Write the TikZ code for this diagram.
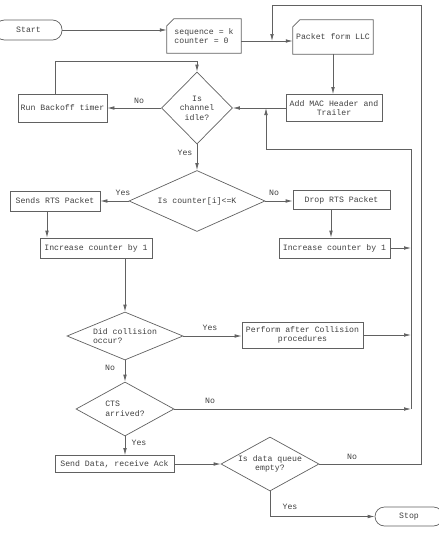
\documentclass[tikz,border=0pt]{standalone}
\usepackage{fontspec}
\setmonofont{Liberation Mono}
\usetikzlibrary{shapes.geometric,arrows.meta}
\definecolor{ln}{gray}{0.38}
\definecolor{tx}{gray}{0.25}
\begin{document}
\begin{tikzpicture}[x=1pt,y=-1pt,
  font=\ttfamily\fontsize{8.2}{9.6}\selectfont,
  every node/.style={text=tx},
  box/.style={draw=ln,line width=0.7pt,rectangle,inner sep=0pt,align=center},
  card/.style={rectangle,inner sep=0pt,align=left},
  term/.style={draw=ln,line width=0.7pt,rectangle,rounded corners=9.5pt,inner sep=0pt},
  dia/.style={draw=ln,line width=0.7pt,diamond,inner sep=0pt,align=center},
  lab/.style={inner sep=0pt},
  arr/.style={draw=ln,line width=0.7pt,-{Latex[length=7pt,width=3.6pt]}},
  ln/.style={draw=ln,line width=0.7pt}]
\useasboundingbox (0,0) rectangle (439,533);
% nodes
\node[term,minimum width=67pt,minimum height=20pt] (start) at (28.5,30) {Start};
\node[card,minimum width=74pt,minimum height=34pt] (seq) at (204,36) {sequence = k\\counter = 0};
\node[card,minimum width=80pt,minimum height=34pt,align=center] (pkt) at (333,37) {Packet form LLC};
\node[box,minimum width=96pt,minimum height=27pt] (mac) at (334,108) {Add MAC Header and\\Trailer};
\node[dia,minimum width=71pt,minimum height=72pt] (chan) at (197,108) {Is\\channel\\idle?};
\node[box,minimum width=89pt,minimum height=28pt] (backoff) at (62.5,108) {Run Backoff timer};
\node[dia,minimum width=136pt,minimum height=61pt,shape aspect=2.2] (cnt) at (197,201) {Is counter[i]<=K};
\node[box,minimum width=90pt,minimum height=20pt] (rts) at (55,201) {Sends RTS Packet};
\node[box,minimum width=97pt,minimum height=19pt] (drop) at (341.5,200) {Drop RTS Packet};
\node[box,minimum width=112pt,minimum height=20pt] (incL) at (96,248) {Increase counter by 1};
\node[box,minimum width=111pt,minimum height=20pt] (incR) at (334.5,248) {Increase counter by 1};
\node[dia,minimum width=116pt,minimum height=48pt,shape aspect=2.4,align=left] (coll) at (125,336) {Did collision\\occur?};
\node[box,minimum width=121pt,minimum height=26pt] (perf) at (302.5,335) {Perform after Collision\\procedures};
\node[dia,minimum width=98pt,minimum height=54pt,shape aspect=1.8,align=left] (cts) at (125,409) {CTS\\arrived?};
\node[box,minimum width=119pt,minimum height=17pt] (send) at (114.5,464) {Send Data, receive Ack};
\node[dia,minimum width=98pt,minimum height=54pt,shape aspect=1.8] (data) at (270,464) {Is data queue\\empty?};
\node[term,minimum width=68pt,minimum height=19pt] (stop) at (409,516.5) {Stop};
% card outlines
\draw[ln] ([yshift=-7pt]seq.north west) -- ([xshift=7pt]seq.north west) -- (seq.north east) -- (seq.south east) -- (seq.south west) -- cycle;
\draw[ln] ([yshift=-7pt]pkt.north west) -- ([xshift=7pt]pkt.north west) -- (pkt.north east) -- (pkt.south east) -- (pkt.south west) -- cycle;
% coordinates
\coordinate (m1) at (272,41);
\coordinate (b1) at (55,61);
\coordinate (c47) at (47,0);
\coordinate (c331) at (331,0);
\coordinate (bus) at (411,149);
\coordinate (bus2) at (266,149);
\coordinate (o1) at (421,5);
\coordinate (o2) at (272,5);
\coordinate (y1) at (270,516.5);
% labels
\node[lab] (l1) at (139,101) {No};
\node[lab] (l2) at (185,153) {Yes};
\node[lab] (l3) at (123,193) {Yes};
\node[lab] (l4) at (274,193) {No};
\node[lab] (l5) at (210,328) {Yes};
\node[lab] (l6) at (110,368) {No};
\node[lab] (l7) at (210,401) {No};
\node[lab] (l8) at (139,443) {Yes};
\node[lab] (l9) at (352,457) {No};
\node[lab] (l10) at (290,507) {Yes};
% connectors
\draw[arr] (start.east) -- (start.east -| seq.west);
\draw[arr] (seq.east |- m1) -- (pkt.west |- m1);
\draw[arr] (pkt.south) -- (pkt.south |- mac.north);
\draw[arr] (mac.west) -- (chan.east);
\draw[arr] (chan.west) -- (backoff.east);
\draw[arr] (backoff.north -| b1) -- (b1) -| (chan.north);
\draw[arr] (chan.south) -- (cnt.north);
\draw[arr] (cnt.west) -- (rts.east);
\draw[arr] (cnt.east) -- (cnt.east -| drop.west);
\draw[arr] (rts.south -| c47) -- (incL.north -| c47);
\draw[arr] (drop.south -| c331) -- (incR.north -| c331);
\draw[arr] (coll.north |- incL.south) -- (coll.north);
\draw[arr] (coll.east) -- (coll.east -| perf.west);
\draw[arr] (coll.south) -- (cts.north);
\draw[arr] (cts.south) -- (cts.south |- send.north);
\draw[arr] (send.east) -- (data.west);
\draw[arr] (incR.east) -- (incR.east -| bus);
\draw[arr] (perf.east) -- (perf.east -| bus);
\draw[arr] (cts.east) -- (cts.east -| bus);
\draw[arr] (bus |- cts.east) -- (bus) -- (bus2) -- (bus2 |- mac.west);
\draw[arr] (data.east) -- (data.east -| o1) -- (o1) -- (o2) -- (o2 |- m1);
\draw[arr] (data.south) -- (y1) -- (stop.west);
\end{tikzpicture}
\end{document}
